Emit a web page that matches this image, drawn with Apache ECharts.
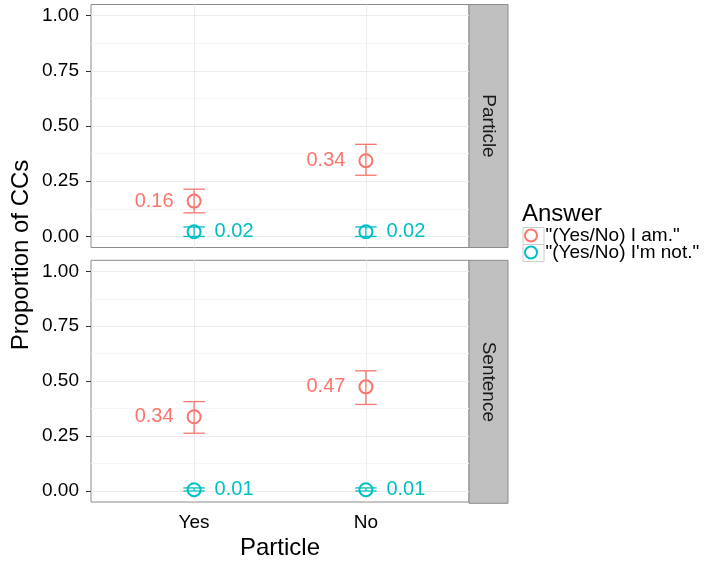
<!DOCTYPE html>
<html>
<head>
<meta charset="utf-8">
<script src="https://cdn.jsdelivr.net/npm/echarts@6/dist/echarts.min.js"></script>
<style>
  html, body { margin: 0; padding: 0; background: #fff; }
  #chart { width: 707px; height: 561px; }
</style>
</head>
<body>
<div id="chart"></div>
<script>
const categories = ['Yes', 'No']
const xPositions = [1, 2]
const panels = ['Particle', 'Sentence']
const answers = ['"(Yes/No) I am."', '"(Yes/No) I\'m not."']
const yTicks = [0, 0.25, 0.5, 0.75, 1]
const yMinorTicks = [0.125, 0.375, 0.625, 0.875]

// Particle panel
const particleAmMean = [0.16, 0.343]
const particleAmLow = [0.107, 0.277]
const particleAmHigh = [0.214, 0.417]
const particleNotMean = [0.021, 0.021]
const particleNotLow = [0, 0]
const particleNotHigh = [0.043, 0.043]

// Sentence panel
const sentenceAmMean = [0.338, 0.474]
const sentenceAmLow = [0.263, 0.394]
const sentenceAmHigh = [0.407, 0.547]
const sentenceNotMean = [0.006, 0.006]
const sentenceNotLow = [0, 0]
const sentenceNotHigh = [0.014, 0.014]

const RED = '#F8766D'
const TEAL = '#00BFC4'
const FONT = '"Liberation Sans", Arial, sans-serif'
const GRID_LEFT = 91
const GRID_W = 378
const GRID_H = 243
const GRID_TOPS = [4.5, 260.3]
const STRIP_W = 39
const CAP_WIDTH = 0.125

const chart = echarts.init(document.getElementById('chart'), null, { renderer: 'canvas' })

function scatterSeries(gi, means, color, name, labelPos) {
  return {
    name: name,
    type: 'scatter',
    xAxisIndex: gi,
    yAxisIndex: gi * 2 + 1,
    symbol: 'emptyCircle',
    symbolSize: 13,
    z: 2,
    itemStyle: { color: color, borderColor: color, borderWidth: 1, opacity: 1 },
    label: {
      show: true,
      position: labelPos,
      distance: 13,
      color: color,
      fontSize: 20,
      fontFamily: FONT,
      formatter: p => p.value[1].toFixed(2)
    },
    emphasis: { disabled: true },
    data: xPositions.map((x, i) => [x, means[i]])
  }
}

function errorSeries(gi, lows, highs, color, name) {
  return {
    name: name,
    type: 'custom',
    xAxisIndex: gi,
    yAxisIndex: gi * 2 + 1,
    z: 3,
    itemStyle: { color: color },
    renderItem: function (params, api) {
      const x = api.value(0)
      const lo = api.coord([x, api.value(1)])
      const hi = api.coord([x, api.value(2)])
      const half = api.size([CAP_WIDTH, 0])[0] / 2
      const style = { stroke: color, lineWidth: 1.3 }
      return {
        type: 'group',
        children: [
          { type: 'line', shape: { x1: lo[0], y1: lo[1], x2: hi[0], y2: hi[1] }, style: style },
          { type: 'line', shape: { x1: hi[0] - half, y1: hi[1], x2: hi[0] + half, y2: hi[1] }, style: style },
          { type: 'line', shape: { x1: lo[0] - half, y1: lo[1], x2: lo[0] + half, y2: lo[1] }, style: style }
        ]
      }
    },
    data: xPositions.map((x, i) => [x, lows[i], highs[i]])
  }
}

const grids = GRID_TOPS.map(top => ({
  left: GRID_LEFT, top: top, width: GRID_W, height: GRID_H,
  show: true, backgroundColor: '#fff', borderColor: '#8c8c8c', borderWidth: 1
}))

const xAxes = GRID_TOPS.map((_, gi) => ({
  gridIndex: gi,
  type: 'value',
  position: 'bottom',
  min: 0.4,
  max: 2.6,
  axisLine: { show: false },
  axisTick: { show: gi === 1, customValues: xPositions, length: 5, lineStyle: { color: '#333' } },
  axisLabel: {
    show: gi === 1,
    customValues: xPositions,
    formatter: v => categories[xPositions.indexOf(v)],
    fontSize: 19,
    fontFamily: FONT,
    color: '#000',
    margin: 11
  },
  splitLine: { show: true, lineStyle: { color: '#ebebeb', width: 1 } },
  name: gi === 1 ? 'Particle' : '',
  nameLocation: 'middle',
  nameGap: 34,
  nameTextStyle: { fontSize: 24, fontFamily: FONT, color: '#000' }
}))

const yAxes = []
GRID_TOPS.forEach((_, gi) => {
  // minor grid lines
  yAxes.push({
    gridIndex: gi,
    type: 'value',
    position: 'left',
    min: -0.05,
    max: 1.05,
    axisLine: { show: false },
    axisTick: { show: false, customValues: yMinorTicks },
    axisLabel: { show: false, customValues: yMinorTicks },
    splitLine: { show: true, lineStyle: { color: '#f5f5f5', width: 1 } }
  })
  yAxes.push({
    gridIndex: gi,
    type: 'value',
    position: 'left',
    min: -0.05,
    max: 1.05,
    axisLine: { show: false },
    axisTick: { show: true, customValues: yTicks, length: 5, lineStyle: { color: '#333' } },
    axisLabel: {
      customValues: yTicks,
      formatter: v => v.toFixed(2),
      fontSize: 19,
      fontFamily: FONT,
      color: '#000',
      margin: 12
    },
    splitLine: { show: true, lineStyle: { color: '#ebebeb', width: 1 } }
  })
})

const series = [
  scatterSeries(0, particleAmMean, RED, answers[0], 'left'),
  scatterSeries(0, particleNotMean, TEAL, answers[1], 'right'),
  scatterSeries(1, sentenceAmMean, RED, answers[0], 'left'),
  scatterSeries(1, sentenceNotMean, TEAL, answers[1], 'right'),
  errorSeries(0, particleAmLow, particleAmHigh, RED, answers[0]),
  errorSeries(0, particleNotLow, particleNotHigh, TEAL, answers[1]),
  errorSeries(1, sentenceAmLow, sentenceAmHigh, RED, answers[0]),
  errorSeries(1, sentenceNotLow, sentenceNotHigh, TEAL, answers[1])
]

const graphics = []
GRID_TOPS.forEach((top, gi) => {
  graphics.push({
    type: 'rect',
    shape: { x: GRID_LEFT + GRID_W, y: top, width: STRIP_W, height: GRID_H },
    style: { fill: '#c0c0c0', stroke: '#8c8c8c', lineWidth: 1 },
    silent: true
  })
  graphics.push({
    type: 'text',
    x: GRID_LEFT + GRID_W + STRIP_W / 2,
    y: top + GRID_H / 2,
    rotation: -Math.PI / 2,
    style: {
      text: panels[gi], fontSize: 19, fontFamily: FONT, fill: '#1a1a1a',
      align: 'center', verticalAlign: 'middle'
    },
    silent: true
  })
})
graphics.push({
  type: 'text',
  x: 21,
  y: 255,
  rotation: Math.PI / 2,
  style: {
    text: 'Proportion of CCs', fontSize: 24, fontFamily: FONT, fill: '#000',
    align: 'center', verticalAlign: 'middle'
  },
  silent: true
})
graphics.push({
  type: 'text',
  x: 522,
  y: 214,
  style: {
    text: 'Answer', fontSize: 24, fontFamily: FONT, fill: '#000',
    align: 'left', verticalAlign: 'middle'
  },
  silent: true
})
// legend key boxes
;[227.5, 244.5].forEach(y => {
  graphics.push({
    type: 'rect',
    z: -1,
    shape: { x: 523, y: y, width: 21, height: 17 },
    style: { fill: '#fff', stroke: '#cccccc', lineWidth: 1 },
    silent: true
  })
})

chart.setOption({
  animation: false,
  backgroundColor: '#fff',
  grid: grids,
  xAxis: xAxes,
  yAxis: yAxes,
  legend: {
    data: answers,
    orient: 'vertical',
    left: 524,
    top: 226,
    padding: 0,
    itemGap: -2,
    itemWidth: 19,
    itemHeight: 12,
    textStyle: { fontSize: 19, fontFamily: FONT, color: '#000', lineHeight: 17 },
    selectedMode: false
  },
  graphic: graphics,
  series: series
})
</script>
</body>
</html>
